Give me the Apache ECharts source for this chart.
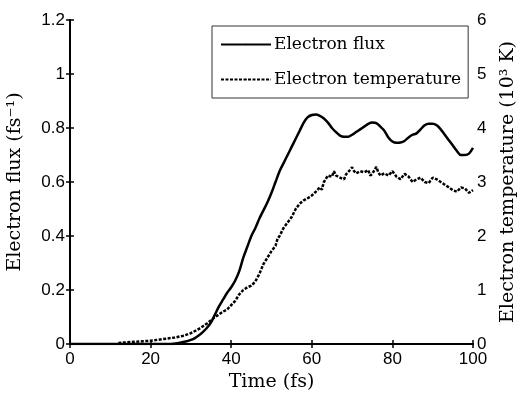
<!DOCTYPE html>
<html><head><meta charset="utf-8">
<script src="https://cdn.jsdelivr.net/npm/echarts@6/dist/echarts.min.js"></script>
<style>html,body{margin:0;padding:0;background:#fff}#c{width:522px;height:396px}</style>
</head><body><div id="c"></div>
<script>
var xTicks = [0, 20, 40, 60, 80, 100];
var fluxTime = [0,10,20,25,27,29,30,31,32,33,34,35,36,37,38,39,40,41,42,43,44,45,46,47,48,49,50,51,52,53,54,55,56,57,58,59,60,61,62,63,64,65,66,67,68,69,70,71,72,73,74,75,76,77,78,79,80,81,82,83,84,85,86,87,88,89,90,91,92,93,94,95,96,97,98,99,100];
var fluxValues = [0,0,0,0,0.004,0.01,0.015,0.022,0.032,0.045,0.06,0.08,0.11,0.14,0.165,0.19,0.21,0.235,0.27,0.32,0.36,0.4,0.43,0.465,0.495,0.525,0.56,0.6,0.64,0.67,0.7,0.73,0.76,0.79,0.82,0.84,0.848,0.85,0.845,0.835,0.82,0.8,0.785,0.772,0.768,0.768,0.775,0.785,0.795,0.805,0.815,0.82,0.818,0.805,0.79,0.765,0.75,0.745,0.746,0.752,0.765,0.775,0.78,0.795,0.81,0.816,0.816,0.81,0.795,0.775,0.755,0.735,0.715,0.7,0.7,0.705,0.726];
var tempTime = [12,14,16,18,20,22,24,26,28,30,32,33,34,35,36,37,38,39,40,41,42,43,44,45,46,47,48,49,50,51,51.5,52,53,54,55,56,57,58,59,60,61,62,62.5,63,64,65,65.5,66,67,68,68.5,69,70,70.5,71,72,73,74,74.5,75,76,76.5,77,78,79,80,81,82,83,84,85,86,87,88,89,90,91,92,93,94,95,96,97,98,99,100];
var tempValues = [0.02,0.03,0.04,0.05,0.06,0.08,0.1,0.12,0.15,0.2,0.28,0.33,0.38,0.44,0.5,0.55,0.6,0.64,0.72,0.8,0.92,1.0,1.05,1.08,1.16,1.3,1.48,1.6,1.72,1.82,1.95,2.0,2.15,2.25,2.35,2.5,2.6,2.66,2.7,2.75,2.82,2.9,2.86,3.0,3.12,3.1,3.2,3.12,3.08,3.05,3.14,3.18,3.27,3.2,3.16,3.2,3.18,3.22,3.12,3.15,3.28,3.18,3.12,3.16,3.12,3.2,3.1,3.05,3.15,3.1,3.0,3.05,3.08,3.0,2.98,3.08,3.05,3.0,2.95,2.9,2.85,2.82,2.9,2.88,2.8,2.85];

var fluxData = fluxTime.map(function(t,i){return [t, fluxValues[i]];});
var tempData = tempTime.map(function(t,i){return [t, tempValues[i]];});

var chart = echarts.init(document.getElementById('c'));
var labelFont = {fontFamily:'Liberation Sans, Arial, sans-serif', fontSize:17, color:'#000'};
var serif = 'DejaVu Serif, serif';
var axisLine = {show:true, lineStyle:{color:'#000', width:2}};
var tick = {show:true, inside:true, length:4, lineStyle:{color:'#000', width:1.5}};
chart.setOption({
  animation:false,
  backgroundColor:'#fff',
  grid:{left:70, right:49, top:20, bottom:52, containLabel:false, outerBoundsMode:'none'},
  legend:{
    orient:'vertical', left:212, top:26,
    padding:[10,7,10,8], itemGap:18, itemWidth:50, itemHeight:2,
    borderColor:'#333', borderWidth:1, backgroundColor:'#fff',
    textStyle:{fontFamily:serif, fontSize:17, color:'#000', padding:[0,0,0,-2]},
    data:['Electron flux','Electron temperature']
  },
  xAxis:[
    {type:'value', min:0, max:100, interval:20, position:'bottom',
     name:'Time (fs)', nameLocation:'middle', nameGap:28,
     nameTextStyle:{fontFamily:serif, fontSize:19, color:'#000'},
     axisLine:axisLine, axisTick:tick, splitLine:{show:false},
     axisLabel:Object.assign({margin:7}, labelFont)},
    {type:'value', min:0, max:100, interval:20, position:'top',
     axisLine:axisLine, axisTick:tick, splitLine:{show:false}, axisLabel:{show:false}}
  ],
  yAxis:[
    {type:'value', min:0, max:1.2, interval:0.2, position:'left',
     name:'Electron flux (fs\u207B\u00B9)', nameLocation:'middle', nameGap:45,
     nameTextStyle:{fontFamily:serif, fontSize:19, color:'#000'},
     axisLine:axisLine, axisTick:tick, splitLine:{show:false},
     axisLabel:Object.assign({margin:5}, labelFont)},
    {type:'value', min:0, max:6, interval:1, position:'right',
     name:'Electron temperature (10\u00B3 K)', nameLocation:'middle', nameGap:26,
     nameTextStyle:{fontFamily:serif, fontSize:19, color:'#000'},
     axisLine:axisLine, axisTick:tick, splitLine:{show:false},
     axisLabel:Object.assign({margin:4}, labelFont)}
  ],
  series:[
    {name:'Electron flux', type:'line', xAxisIndex:0, yAxisIndex:0, data:fluxData,
     symbol:'none', smooth:0.3, lineStyle:{color:'#000', width:2.5}, itemStyle:{color:'#000'}},
    {name:'Electron temperature', type:'line', xAxisIndex:0, yAxisIndex:1, data:tempData,
     symbol:'none', lineStyle:{color:'#000', width:2.5, type:[3,1.5]}, itemStyle:{color:'#000'}}
  ]
});
</script></body></html>
